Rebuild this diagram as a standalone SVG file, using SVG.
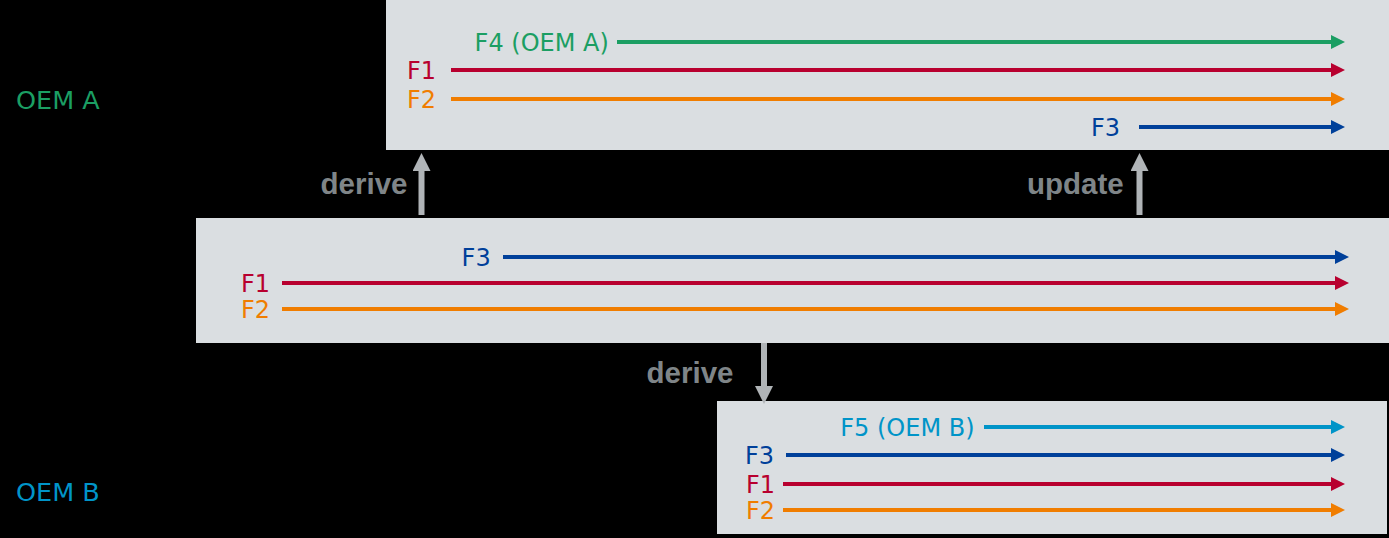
<svg xmlns="http://www.w3.org/2000/svg" width="1389" height="538" viewBox="0 0 1389 538">
<style>
.box{fill:#dadee1}
.lbl{font-family:"DejaVu Sans",Verdana,sans-serif;font-size:24px}
.oem{font-size:25.5px}
.act{font-family:"Liberation Sans",Arial,sans-serif;font-weight:bold;font-size:29.5px;fill:#7f8588}
.ln{stroke-width:4;fill:none}
.g{stroke:#1b9e63}.gt{fill:#1b9e63}
.r{stroke:#b8002f}.rt{fill:#b8002f}
.o{stroke:#f07d00}.ot{fill:#f07d00}
.b{stroke:#00409a}.bt{fill:#00409a}
.c{stroke:#0094c8}.ct{fill:#0094c8}
.gray{stroke:#b0b4b7;stroke-width:6;fill:none}
</style>
<defs>
<marker id="mg" markerUnits="userSpaceOnUse" markerWidth="14" markerHeight="14" viewBox="0 -7 14 14" refX="0" refY="0" orient="auto"><path d="M0,-7L14,0L0,7z" fill="#1b9e63"/></marker>
<marker id="mr" markerUnits="userSpaceOnUse" markerWidth="14" markerHeight="14" viewBox="0 -7 14 14" refX="0" refY="0" orient="auto"><path d="M0,-7L14,0L0,7z" fill="#b8002f"/></marker>
<marker id="mo" markerUnits="userSpaceOnUse" markerWidth="14" markerHeight="14" viewBox="0 -7 14 14" refX="0" refY="0" orient="auto"><path d="M0,-7L14,0L0,7z" fill="#f07d00"/></marker>
<marker id="mb" markerUnits="userSpaceOnUse" markerWidth="14" markerHeight="14" viewBox="0 -7 14 14" refX="0" refY="0" orient="auto"><path d="M0,-7L14,0L0,7z" fill="#00409a"/></marker>
<marker id="mc" markerUnits="userSpaceOnUse" markerWidth="14" markerHeight="14" viewBox="0 -7 14 14" refX="0" refY="0" orient="auto"><path d="M0,-7L14,0L0,7z" fill="#0094c8"/></marker>
<marker id="mgray" markerUnits="userSpaceOnUse" markerWidth="18" markerHeight="18" viewBox="0 -9 18 18" refX="0" refY="0" orient="auto"><path d="M0,-9L18,0L0,9z" fill="#b0b4b7"/></marker>
</defs>
<rect width="1389" height="538" fill="#000"/>

<text class="lbl oem gt" x="16" y="109">OEM A</text>
<text class="lbl oem ct" x="16" y="501">OEM B</text>

<g id="oem-a">
<rect class="box" x="386" y="0" width="1003" height="150"/>
<text class="lbl gt" x="474.6" y="51">F4 (OEM A)</text>
<line class="ln g" x1="617" y1="42" x2="1331" y2="42" marker-end="url(#mg)"/>
<text class="lbl rt" x="407" y="79">F1</text>
<line class="ln r" x1="451" y1="70" x2="1331" y2="70" marker-end="url(#mr)"/>
<text class="lbl ot" x="407" y="108">F2</text>
<line class="ln o" x1="451" y1="99" x2="1331" y2="99" marker-end="url(#mo)"/>
<text class="lbl bt" x="1091" y="136">F3</text>
<line class="ln b" x1="1139" y1="127" x2="1331" y2="127" marker-end="url(#mb)"/>
</g>

<g id="base">
<rect class="box" x="196" y="218" width="1193" height="125"/>
<text class="lbl bt" x="461.6" y="266">F3</text>
<line class="ln b" x1="503" y1="257" x2="1335" y2="257" marker-end="url(#mb)"/>
<text class="lbl rt" x="241" y="292">F1</text>
<line class="ln r" x1="282" y1="283" x2="1335" y2="283" marker-end="url(#mr)"/>
<text class="lbl ot" x="241" y="318">F2</text>
<line class="ln o" x1="282" y1="309" x2="1335" y2="309" marker-end="url(#mo)"/>
</g>

<g id="oem-b">
<rect class="box" x="717" y="401" width="670" height="133"/>
<text class="lbl ct" x="840.3" y="436">F5 (OEM B)</text>
<line class="ln c" x1="984" y1="427" x2="1331" y2="427" marker-end="url(#mc)"/>
<text class="lbl bt" x="745" y="464">F3</text>
<line class="ln b" x1="786" y1="455" x2="1331" y2="455" marker-end="url(#mb)"/>
<text class="lbl rt" x="746" y="493">F1</text>
<line class="ln r" x1="783" y1="484" x2="1331" y2="484" marker-end="url(#mr)"/>
<text class="lbl ot" x="746" y="519">F2</text>
<line class="ln o" x1="783" y1="510" x2="1331" y2="510" marker-end="url(#mo)"/>
</g>

<g id="connectors">
<line class="gray" x1="421.5" y1="215" x2="421.5" y2="171" marker-end="url(#mgray)"/>
<text class="act" x="320.6" y="194">derive</text>
<line class="gray" x1="1139.5" y1="215" x2="1139.5" y2="171" marker-end="url(#mgray)"/>
<text class="act" x="1027" y="194">update</text>
<line class="gray" x1="764" y1="343" x2="764" y2="386" marker-end="url(#mgray)"/>
<text class="act" x="646.6" y="383">derive</text>
</g>
</svg>
